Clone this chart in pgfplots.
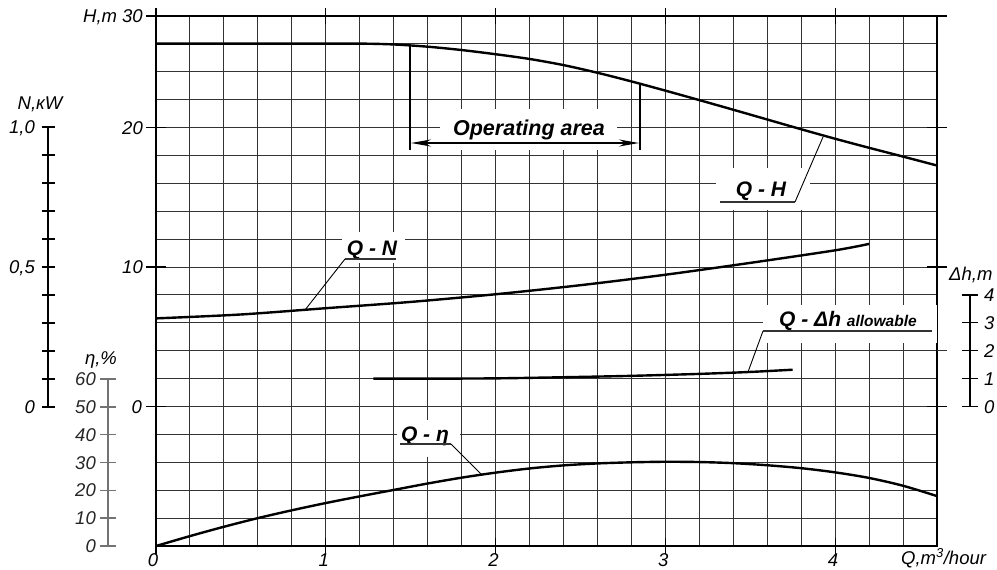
\documentclass[border=0pt]{standalone}
\usepackage{pgfplots}
\pgfplotsset{compat=1.18}
\usepackage{pgfplotstable}
\usepackage{fontspec}
\setmainfont{Liberation Sans}
\usetikzlibrary{arrows.meta}

% Q-H : head, m
\pgfplotstableread{
Q H
0 26.02
0.4 26.02
0.8 26.02
1.2 26.02
1.4 25.96
1.6 25.80
1.8 25.56
2.0 25.26
2.2 24.92
2.4 24.48
2.6 23.93
2.8 23.31
3.0 22.65
3.2 21.97
3.4 21.28
3.6 20.58
3.8 19.88
4.0 19.20
4.2 18.55
4.4 17.92
4.6 17.28
}\tabQH

% Q-N : power, kW
\pgfplotstableread{
Q N
0 0.316
0.5 0.330
1.0 0.3525
1.5 0.375
2.0 0.4025
2.5 0.435
3.0 0.4725
3.5 0.515
4.0 0.560
4.2 0.583
}\tabQN

% Q-eta : efficiency, %
\pgfplotstableread{
Q eta
0 0
0.2 3.55
0.4 6.9
0.6 10.0
0.8 12.8
1.0 15.4
1.2 17.8
1.4 20.1
1.6 22.4
1.8 24.5
2.0 26.3
2.2 27.8
2.4 28.9
2.6 29.6
2.8 30.0
3.0 30.2
3.2 30.1
3.4 29.7
3.6 28.95
3.8 27.9
4.0 26.4
4.2 24.4
4.4 21.6
4.6 17.9
}\tabQeta

% Q-dh allowable : m
\pgfplotstableread{
Q dh
1.28 1.0
1.6 1.0
2.0 1.01
2.4 1.05
2.8 1.1
3.2 1.17
3.5 1.24
3.75 1.32
}\tabQdh

\newcommand{\tl}{\fontsize{18.5}{18.5}\selectfont\itshape}
\newcommand{\cl}{\fontsize{21}{21}\selectfont\bfseries\itshape}

\begin{document}
\begin{tikzpicture}
\useasboundingbox (0pt,0pt) rectangle (997pt,-570pt);
\begin{axis}[
  at={(156pt,-546pt)}, anchor=south west,
  scale only axis, width=781pt, height=530pt,
  xmin=0, xmax=4.6, ymin=-10, ymax=28,
  xtick={0,0.2,...,4.61}, ytick={-10,-8,...,28},
  xticklabels={}, yticklabels={},
  major tick length=0pt,
  grid=major,
  major grid style={black!80, line width=1pt},
  axis line style={black, line width=1.2pt},
  extra x ticks={0,1,2,3,4},
  extra x tick labels={},
  extra x tick style={grid=none, major tick length=16pt, tick align=center, tick style={black, line width=1.2pt}},
  extra y ticks={0,10,20,28},
  extra y tick labels={},
  extra y tick style={grid=none, major tick length=20pt, tick align=center, tick style={black, line width=1.2pt}},
  clip=false,
]
\addplot[black, line width=2.4pt, smooth] table[x=Q, y=H] {\tabQH};
\addplot[black, line width=2.4pt, smooth] table[x=Q, y expr=20*\thisrow{N}] {\tabQN};
\addplot[black, line width=2.4pt, smooth] table[x=Q, y expr=\thisrow{eta}/5-10] {\tabQeta};
\addplot[black, line width=2.4pt, smooth] table[x=Q, y expr=2*\thisrow{dh}] {\tabQdh};
\end{axis}

\begin{scope}[x=1pt, y=-1pt]
% tick labels of main axes
\foreach \xx/\lab in {153/0, 323.8/1, 493.6/2, 663.3/3, 833.1/4}
  \node[anchor=base, inner sep=0, font=\tl] at (\xx,566.5) {\lab};
\node[anchor=base east, inner sep=0, font=\tl] at (143,22.5) {H,m 30};
\node[anchor=base east, inner sep=0, font=\tl] at (143,134) {20};
\node[anchor=base east, inner sep=0, font=\tl] at (143,273.5) {10};
\node[anchor=base east, inner sep=0, font=\tl] at (142,413) {0};
\node[anchor=base west, inner sep=0, font=\tl] at (901,564) {Q,m\textsuperscript{3}/hour};

% N axis
\draw[line width=1.2pt] (48,127) -- (48,407);
\foreach \i in {0,...,10} \draw[line width=1.2pt] (41.5,{407-28*\i}) -- (55,{407-28*\i});
\node[anchor=base east, inner sep=0, font=\tl] at (35,133.5) {1,0};
\node[anchor=base east, inner sep=0, font=\tl] at (35,273.5) {0,5};
\node[anchor=base east, inner sep=0, font=\tl] at (35,413) {0};
\node[anchor=base, inner sep=0, font=\tl] at (40,109.5) {N,кW};

% eta axis
\draw[black!55, line width=1.4pt] (108,379) -- (108,546);
\foreach \i/\lab in {0/0,1/10,2/20,3/30,4/40,5/50,6/60} {
  \draw[black!55, line width=1.4pt] (100,{546-27.83*\i}) -- (116,{546-27.83*\i});
  \node[anchor=base east, inner sep=0, font=\tl, text=black!85] at (96,{552.5-27.83*\i}) {\lab};
}
\node[anchor=base, inner sep=0, font=\tl] at (101,364) {η,\%};

% dh axis
\draw[line width=1.2pt] (970,295) -- (970,406.5);
\foreach \i in {0,...,4} {
  \draw[line width=1.2pt] (962,{406.5-27.9*\i}) -- (978,{406.5-27.9*\i});
  \node[anchor=base west, inner sep=0, font=\tl] at (984,{413-27.9*\i}) {\i};
}
\node[anchor=base west, inner sep=0, font=\tl] at (949,280) {Δh,m};
\draw[black!80, line width=1pt] (937,350.7) -- (947,350.7);

% Operating area
\fill[white] (440,109) rectangle (617,150);
\node[anchor=base, inner sep=0, font=\fontsize{21.5}{21.5}\selectfont\bfseries\itshape] at (529,135.5) {Operating area};
\draw[line width=1.3pt] (410,46) -- (410,150);
\draw[line width=1.3pt] (640,85) -- (640,150);
\draw[line width=2pt, {Stealth[length=20pt,width=7pt]}-{Stealth[length=20pt,width=7pt]}] (411,143) -- (639,143);

% Q-H label
\fill[white] (716,168) rectangle (810,210);
\node[anchor=base, inner sep=0, font=\cl] at (761,196.5) {Q - H};
\draw[black!80, line width=1.1pt] (720,202) -- (795,202);
\draw[black, line width=0.9pt] (795,202) -- (823,137);

% Q-N label
\fill[white] (342,232) rectangle (405,263);
\node[anchor=base, inner sep=0, font=\cl] at (372,255) {Q - N};
\draw[black!80, line width=1.1pt] (345,259) -- (396,259);
\draw[black, line width=0.9pt] (345,259) -- (305,310);

% Q-dh label
\fill[white] (763,305) rectangle (937,343);
\node[anchor=base west, inner sep=0] at (779,326) {\cl Q - Δh \fontsize{15.5}{15.5}\selectfont allowable};
\draw[black!80, line width=1.1pt] (763,331) -- (932,331);
\draw[black, line width=0.9pt] (763,331) -- (748,372);

% Q-eta label
\fill[white] (397,420) rectangle (460,457);
\node[anchor=base, inner sep=0, font=\cl] at (425,441) {Q - η};
\draw[black!80, line width=1.1pt] (400,444) -- (451,444);
\draw[black, line width=0.9pt] (451,444) -- (481,474);
\end{scope}
\end{tikzpicture}
\end{document}
